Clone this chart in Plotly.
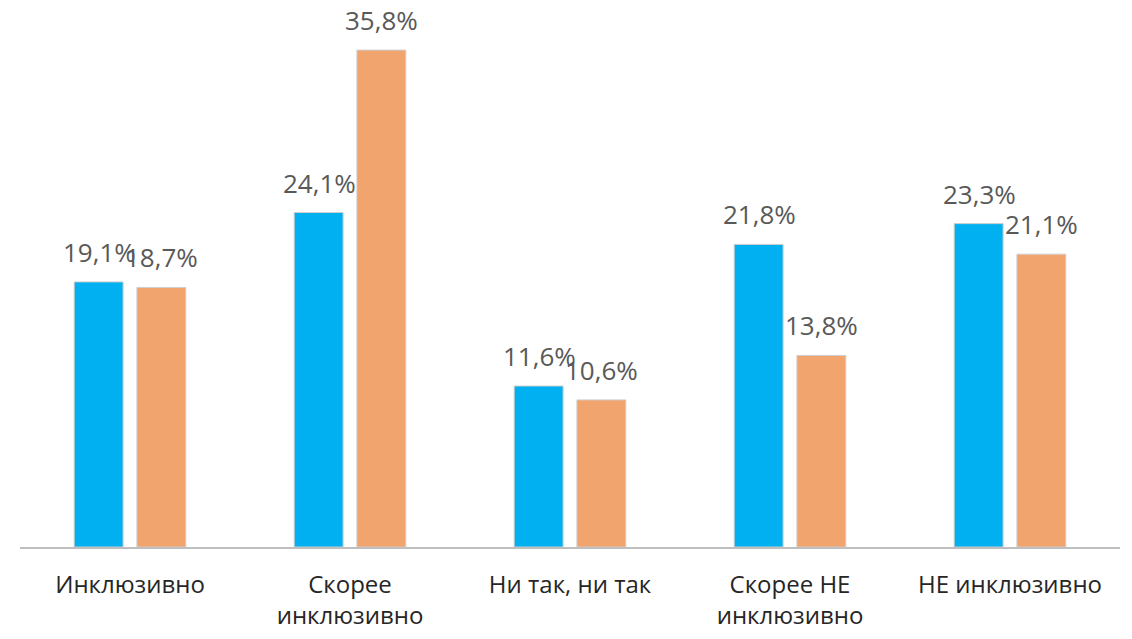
import plotly.graph_objects as go

categories = ["Инклюзивно", "Скорее<br>инклюзивно", "Ни так, ни так", "Скорее НЕ<br>инклюзивно", "НЕ инклюзивно"]
series_a = [19.1, 24.1, 11.6, 21.8, 23.3]
series_b = [18.7, 35.8, 10.6, 13.8, 21.1]
colors = ["#00B0F0", "#F2A46E"]


def fmt(v):
    return f"{v:.1f}".replace(".", ",") + "%"


fig = go.Figure()
for vals, col in zip([series_a, series_b], colors):
    fig.add_trace(go.Bar(
        x=categories, y=vals, marker=dict(color=col, line=dict(color="#CFCFCF", width=1)),
        showlegend=False, hoverinfo="skip",
    ))

# value labels (annotations placed from data, offset above bars)
offsets = [-31, 31]
for vals, off in zip([series_a, series_b], offsets):
    for c, v in zip(categories, vals):
        fig.add_annotation(x=c, y=v, xref="x", yref="y", text=fmt(v), showarrow=False,
                           xshift=off, yshift=11, yanchor="bottom", borderpad=0,
                           font=dict(family="Open Sans", size=26, color="#595959"))

fig.update_layout(
    width=1132, height=639,
    margin=dict(l=20, r=12, t=20, b=92),
    paper_bgcolor="white", plot_bgcolor="white",
    barmode="group", bargap=0.43, bargroupgap=0.22,
    xaxis=dict(showline=True, linecolor="#BFBFBF", linewidth=2, ticks="",
               tickfont=dict(family="Open Sans", size=24, color="#262626"),
               showgrid=False, ticklabelstandoff=15, automargin=False),
    yaxis=dict(range=[0, 37.97], visible=False, showgrid=False, automargin=False),
)
fig.write_html("out.html", config={"displayModeBar": False},
               post_script="document.body.style.margin='0';")
